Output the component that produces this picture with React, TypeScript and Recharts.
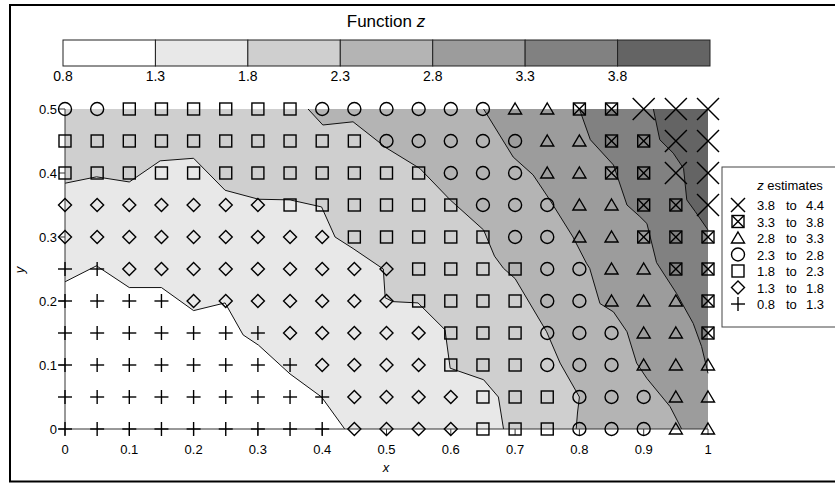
import React from 'react';
import { ComposedChart, XAxis, YAxis, Area, Line, Scatter } from 'recharts';

// ---------- data ----------
const xValues = [0, 0.05, 0.1, 0.15, 0.2, 0.25, 0.3, 0.35, 0.4, 0.45, 0.5, 0.55, 0.6, 0.65, 0.7, 0.75, 0.8, 0.85, 0.9, 0.95, 1];
const yValues = [0.5, 0.45, 0.4, 0.35, 0.3, 0.25, 0.2, 0.15, 0.1, 0.05, 0];
// z class per grid point (0: 0.8-1.3 ... 6: 3.8-4.4), rows follow yValues
const zClassRows = [
  [3, 3, 2, 2, 2, 2, 2, 2, 3, 3, 3, 3, 3, 3, 4, 4, 5, 5, 6, 6, 6],
  [2, 2, 2, 2, 2, 2, 2, 2, 2, 2, 3, 3, 3, 3, 3, 4, 4, 5, 5, 6, 6],
  [2, 2, 2, 2, 2, 2, 2, 2, 2, 2, 2, 2, 3, 3, 3, 4, 4, 5, 5, 6, 6],
  [1, 1, 1, 1, 1, 1, 1, 2, 2, 2, 2, 2, 2, 3, 3, 3, 4, 4, 5, 5, 6],
  [1, 1, 1, 1, 1, 1, 1, 1, 1, 2, 2, 2, 2, 2, 3, 3, 4, 4, 5, 5, 5],
  [0, 0, 1, 1, 1, 1, 1, 1, 1, 1, 1, 2, 2, 2, 2, 3, 3, 4, 4, 5, 5],
  [0, 0, 0, 0, 1, 1, 1, 1, 1, 1, 1, 2, 2, 2, 2, 3, 3, 4, 4, 4, 5],
  [0, 0, 0, 0, 0, 0, 0, 1, 1, 1, 1, 1, 2, 2, 2, 3, 3, 3, 4, 4, 5],
  [0, 0, 0, 0, 0, 0, 0, 0, 1, 1, 1, 1, 2, 2, 2, 3, 3, 3, 4, 4, 4],
  [0, 0, 0, 0, 0, 0, 0, 0, 0, 1, 1, 1, 1, 2, 2, 2, 3, 3, 3, 4, 4],
  [0, 0, 0, 0, 0, 0, 0, 0, 0, 1, 1, 1, 1, 2, 2, 2, 3, 3, 3, 4, 4],
];

const levels = [0.8, 1.3, 1.8, 2.3, 2.8, 3.3, 3.8, 4.4];
const levelLabels = ['0.8', '1.3', '1.8', '2.3', '2.8', '3.3', '3.8'];
const bandColors = ['#ffffff', '#e8e8e8', '#cfcfcf', '#b4b4b4', '#9c9c9c', '#818181', '#646464'];

// contour lines (x, y) for levels 1.3 ... 3.8
const contour13 = [[0, 0.23], [0.049, 0.255], [0.1, 0.221], [0.15, 0.221], [0.2, 0.185], [0.249, 0.197], [0.277, 0.147], [0.301, 0.131], [0.35, 0.086], [0.399, 0.05], [0.435, 0]];
const contour18 = [[0, 0.384], [0.049, 0.394], [0.1, 0.386], [0.148, 0.419], [0.2, 0.423], [0.249, 0.373], [0.301, 0.359], [0.35, 0.358], [0.399, 0.347], [0.42, 0.3], [0.448, 0.282], [0.495, 0.25], [0.498, 0.205], [0.51, 0.199], [0.549, 0.197], [0.591, 0.155], [0.599, 0.095], [0.651, 0.077], [0.674, 0.05], [0.682, 0]];
const contour23 = [[0.378, 0.5], [0.401, 0.475], [0.448, 0.48], [0.5, 0.439], [0.552, 0.407], [0.599, 0.358], [0.651, 0.311], [0.668, 0.27], [0.682, 0.251], [0.7, 0.235], [0.749, 0.152], [0.77, 0.103], [0.8, 0.05], [0.797, 0.025], [0.795, 0]];
const contour28 = [[0.651, 0.5], [0.697, 0.425], [0.728, 0.397], [0.754, 0.358], [0.79, 0.3], [0.811, 0.259], [0.816, 0.251], [0.832, 0.196], [0.853, 0.183], [0.874, 0.152], [0.889, 0.103], [0.905, 0.079], [0.941, 0.035], [0.959, 0]];
const contour33 = [[0.8, 0.5], [0.817, 0.452], [0.853, 0.4125], [0.874, 0.35], [0.894, 0.332], [0.905, 0.321], [0.92, 0.26], [0.951, 0.212], [0.977, 0.165], [0.99, 0.129], [1, 0.087]];
const contour38 = [[0.915, 0.5], [0.925, 0.452], [0.946, 0.431], [0.962, 0.407], [0.967, 0.358], [0.98, 0.34], [1, 0.311]];
const contours = [contour13, contour18, contour23, contour28, contour33, contour38];

const xTicks = [0, 0.1, 0.2, 0.3, 0.4, 0.5, 0.6, 0.7, 0.8, 0.9, 1];
const yTicks = [0, 0.1, 0.2, 0.3, 0.4, 0.5];

// ---------- derived ----------
const toPts = (c: number[][]) => c.map(([x, y]) => ({ x, y }));
const regionData = (c: number[][]) => {
  const pts = toPts(c);
  const out: { x: number; y: number }[] = [];
  if (pts[0].x > 0) out.push({ x: 0, y: 0.5 });
  out.push(...pts);
  if (pts[pts.length - 1].x < 1) out.push({ x: 1, y: 0 });
  return out;
};
const backgroundData = [{ x: 0, y: 0.5 }, { x: 1, y: 0.5 }];

const classPoints: { x: number; y: number }[][] = [[], [], [], [], [], [], []];
zClassRows.forEach((row, ri) => row.forEach((k, ci) => classPoints[k].push({ x: xValues[ci], y: yValues[ri] })));

// ---------- markers ----------
const SW = 1.4;
const drawMarker = (k: number, cx: number, cy: number, big = true) => {
  const p = { stroke: '#000', strokeWidth: SW, fill: 'none' };
  switch (k) {
    case 0:
      return (
        <g {...p}>
          <line x1={cx - 7} y1={cy} x2={cx + 7} y2={cy} />
          <line x1={cx} y1={cy - 7} x2={cx} y2={cy + 7} />
        </g>
      );
    case 1:
      return <polygon {...p} points={`${cx},${cy - 6.5} ${cx + 6.5},${cy} ${cx},${cy + 6.5} ${cx - 6.5},${cy}`} />;
    case 2:
      return <rect {...p} x={cx - 6} y={cy - 6} width={12} height={12} />;
    case 3:
      return <circle {...p} cx={cx} cy={cy} r={6.5} />;
    case 4:
      return <polygon {...p} points={`${cx},${cy - 6} ${cx + 6.5},${cy + 5} ${cx - 6.5},${cy + 5}`} />;
    case 5:
      return (
        <g {...p}>
          <rect x={cx - 6} y={cy - 6} width={12} height={12} />
          <line x1={cx - 6} y1={cy - 6} x2={cx + 6} y2={cy + 6} />
          <line x1={cx + 6} y1={cy - 6} x2={cx - 6} y2={cy + 6} />
        </g>
      );
    default: {
      const h = big ? 11 : 7;
      return (
        <g {...p}>
          <line x1={cx - h} y1={cy - h} x2={cx + h} y2={cy + h} />
          <line x1={cx + h} y1={cy - h} x2={cx - h} y2={cy + h} />
        </g>
      );
    }
  }
};

const FONT = '"Liberation Sans", Arial, sans-serif';

const Overlay = () => {
  const cbX = 63, cbW = 647, cbY = 40, cbH = 26;
  const cw = cbW / 7;
  return (
    <svg width={835} height={484} style={{ position: 'absolute', left: 0, top: 0, pointerEvents: 'none' }} fontFamily={FONT}>
      <rect x={10} y={5} width={840} height={476.5} fill="none" stroke="#000" strokeWidth={2} />
      <text x={386} y={27} textAnchor="middle" fontSize={17}>
        Function <tspan fontStyle="italic">z</tspan>
      </text>
      {bandColors.map((c, i) => (
        <rect key={i} x={cbX + i * cw} y={cbY} width={cw} height={cbH} fill={c} stroke="#222" strokeWidth={1} />
      ))}
      {levelLabels.map((l, i) => (
        <text key={l} x={cbX + i * cw} y={81} textAnchor="middle" fontSize={14}>
          {l}
        </text>
      ))}
      <text x={386} y={472} textAnchor="middle" fontSize={13} fontStyle="italic">x</text>
      <text x={24} y={270} textAnchor="middle" fontSize={13} fontStyle="italic" transform="rotate(-90 24 270)">y</text>
      <rect x={722} y={167} width={130} height={160} fill="#fff" stroke="#444" strokeWidth={1} />
      <text x={790} y={190} textAnchor="middle" fontSize={13}>
        <tspan fontStyle="italic">z</tspan> estimates
      </text>
      {[6, 5, 4, 3, 2, 1, 0].map((k, i) => {
        const cy = 205 + i * 16.5;
        return (
          <g key={k}>
            {drawMarker(k, 738, cy, false)}
            <text x={757} y={cy + 5} fontSize={13}>{levels[k].toFixed(1)}</text>
            <text x={786} y={cy + 5} fontSize={13}>to</text>
            <text x={806} y={cy + 5} fontSize={13}>{levels[k + 1].toFixed(1)}</text>
          </g>
        );
      })}
    </svg>
  );
};

export default function App() {
  return (
    <div style={{ position: 'absolute', left: 0, top: 0, width: 835, height: 484, background: '#fff' }}>
      <ComposedChart width={835} height={484} margin={{ top: 109, right: 127, bottom: 25, left: 0 }}>
        <XAxis
          dataKey="x"
          type="number"
          domain={[0, 1]}
          ticks={xTicks}
          interval={0}
          tickSize={6}
          tickMargin={10}
          height={30}
          stroke="#333"
          tick={{ fill: '#000', fontSize: 13, fontFamily: FONT }}
        />
        <YAxis
          dataKey="y"
          type="number"
          domain={[0, 0.5]}
          ticks={yTicks}
          interval={0}
          tickSize={6}
          width={65}
          stroke="#333"
          tick={{ fill: '#000', fontSize: 13, fontFamily: FONT }}
        />
        <Area data={backgroundData} dataKey="y" type="linear" fill={bandColors[6]} fillOpacity={1} stroke="none" isAnimationActive={false} />
        {[5, 4, 3, 2, 1, 0].map((b) => (
          <Area
            key={'a' + b}
            data={regionData(contours[b])}
            dataKey="y"
            type="linear"
            fill={bandColors[b]}
            fillOpacity={1}
            stroke="none"
            isAnimationActive={false}
          />
        ))}
        {contours.map((c, i) => (
          <Line key={'l' + i} data={toPts(c)} dataKey="y" type="linear" stroke="#111" strokeWidth={1} dot={false} isAnimationActive={false} />
        ))}
        {classPoints.map((pts, k) => (
          <Scatter
            key={'s' + k}
            data={pts}
            isAnimationActive={false}
            shape={(props: any) => drawMarker(k, props.cx, props.cy, true)}
          />
        ))}
      </ComposedChart>
      <Overlay />
    </div>
  );
}
